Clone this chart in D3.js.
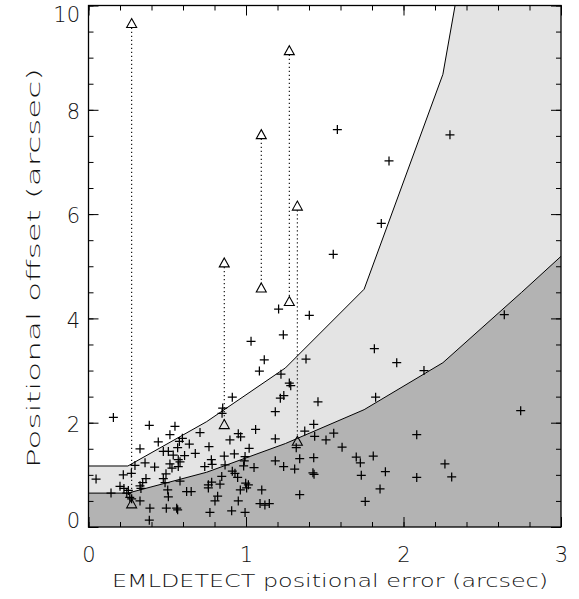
<!DOCTYPE html>
<html>
<head>
<meta charset="utf-8">
<script src="https://cdn.jsdelivr.net/npm/d3@7"></script>
<style>
  body { margin: 0; background: #fff; }
  text { font-family: "DejaVu Sans", sans-serif; font-weight: 200; }
</style>
</head>
<body>
<svg id="chart" width="579" height="599"></svg>
<script>
// ---- axis ticks ----
const xTicks = [0, 1, 2, 3];
const yTicks = [0, 2, 4, 6, 8, 10];
const xMinor = d3.range(0, 3.001, 0.2);
const yMinor = d3.range(0, 10.001, 0.5);

// ---- envelope curves (arcsec) ----
const curveX = [0, 0.25, 0.75, 1.25, 1.75, 2.25, 2.75, 3.0];
const lowerY = [0.65, 0.65, 1.05, 1.60, 2.25, 3.15, 4.50, 5.19];
const upperY = [1.17, 1.17, 2.02, 3.05, 4.56, 8.68, 17.2, 21.5];

// ---- sources: EMLDETECT error vs positional offset ----
const crossX = [
  0.158, 0.386, 0.549, 0.517, 0.443, 0.327, 0.577, 0.640, 0.596, 0.566,
  0.475, 0.507, 0.538, 0.610, 0.678, 0.581, 0.570, 0.517, 0.530, 0.570,
  0.492, 0.359, 0.420, 0.295, 0.048, 0.221, 0.272, 0.365, 0.344, 0.475,
  0.200, 0.225, 0.327, 0.333, 0.486, 0.143, 0.243, 0.253, 0.503, 0.623,
  0.652, 0.262, 0.274, 0.327, 0.507, 0.390, 0.494, 0.560, 0.386, 0.581,
  0.566, 0.708,
  0.913, 0.852, 0.848, 0.898, 0.951, 0.966, 1.061, 0.765, 1.020, 0.780,
  0.785, 0.738, 0.862, 0.926, 0.994, 0.989, 0.867, 0.985, 1.051, 0.846,
  0.913, 0.930, 0.947, 0.761, 0.782, 0.835, 0.998, 1.015, 1.004, 0.761,
  0.964, 0.820, 0.803, 0.951, 0.771, 0.909, 0.994,
  1.089, 1.120, 1.148, 1.100, 1.218, 1.240, 1.457, 1.186, 1.430, 1.373,
  1.436, 1.557, 1.508, 1.186, 1.319, 1.610, 1.341, 1.430, 1.186, 1.239,
  1.309, 1.425, 1.432, 1.700, 1.726, 1.732, 1.808, 1.885, 1.851, 1.341,
  1.757, 1.823, 2.084, 2.084, 2.263, 2.306, 2.744, 2.640, 1.815, 1.957,
  2.130, 1.275, 1.284, 1.237, 1.032, 1.116, 1.381, 1.085, 1.222, 1.207,
  1.402, 1.554, 1.859, 1.580, 1.908, 2.295
];
const crossY = [
  2.10, 1.95, 1.93, 1.77, 1.63, 1.50, 1.64, 1.59, 1.70, 1.52,
  1.45, 1.45, 1.38, 1.37, 1.41, 1.25, 1.29, 1.21, 1.13, 1.16,
  1.02, 1.23, 1.15, 1.18, 0.92, 1.00, 1.03, 0.93, 0.85, 0.93,
  0.78, 0.74, 0.79, 0.74, 0.85, 0.65, 0.65, 0.70, 0.71, 0.68,
  0.68, 0.57, 0.54, 0.50, 0.58, 0.36, 0.36, 0.36, 0.13, 0.88,
  0.33, 1.81,
  2.49, 2.28, 2.18, 1.67, 1.79, 1.73, 1.87, 1.54, 1.51, 1.29,
  1.20, 1.16, 1.36, 1.40, 1.35, 1.27, 1.19, 1.17, 1.14, 0.97,
  1.07, 1.03, 0.95, 0.81, 0.86, 0.82, 0.84, 0.81, 0.75, 0.75,
  0.71, 0.59, 0.50, 0.50, 0.28, 0.31, 0.28,
  0.45, 0.42, 0.45, 0.71, 2.47, 2.52, 2.40, 2.21, 1.97, 1.84,
  1.74, 1.80, 1.67, 1.69, 1.52, 1.53, 1.31, 1.33, 1.27, 1.16,
  1.11, 1.04, 1.01, 1.34, 1.23, 0.99, 1.36, 1.06, 0.73, 0.62,
  0.49, 2.49, 1.77, 0.95, 1.21, 0.96, 2.23, 4.07, 3.42, 3.15,
  3.00, 2.76, 2.71, 3.685, 3.56, 3.205, 3.22, 2.99, 2.93, 4.18,
  4.06, 5.23, 5.82, 7.62, 7.02, 7.52
];

// ---- sources with two position estimates (linked by dotted lines) ----
const pairX      = [0.274, 0.862, 1.097, 1.275, 1.326];
const pairTop    = [9.65, 5.06, 7.52, 9.13, 6.15];
const pairBottom = [0.44, 1.96, 4.58, 4.32, 1.64];

// ---- layout ----
const svg = d3.select("#chart");
const L = 88.5, R = 561, T = 5.5, B = 527;
const x = d3.scaleLinear().domain([0, 3]).range([L, R]);
const y = d3.scaleLinear().domain([0, 10]).range([B, T]);

svg.append("defs").append("clipPath").attr("id", "plotclip")
  .append("rect").attr("x", L).attr("y", T).attr("width", R - L).attr("height", B - T);

const plot = svg.append("g").attr("clip-path", "url(#plotclip)");

const env = curveX.map((d, i) => ({ x: d, lo: lowerY[i], hi: upperY[i] }));

// light band between the two curves
plot.append("path").datum(env)
  .attr("d", d3.area().x(d => x(d.x)).y0(d => y(d.lo)).y1(d => y(d.hi)))
  .attr("fill", "#e4e4e4");
// darker region under the lower curve
plot.append("path").datum(env)
  .attr("d", d3.area().x(d => x(d.x)).y0(y(0)).y1(d => y(d.lo)))
  .attr("fill", "#b3b3b3");

const lineLo = d3.line().x(d => x(d.x)).y(d => y(d.lo));
const lineHi = d3.line().x(d => x(d.x)).y(d => y(d.hi));
plot.append("path").datum(env).attr("d", lineLo)
  .attr("fill", "none").attr("stroke", "#000").attr("stroke-width", 1);
plot.append("path").datum(env).attr("d", lineHi)
  .attr("fill", "none").attr("stroke", "#000").attr("stroke-width", 1);

// dotted connectors
plot.selectAll("line.pair").data(pairX).join("line")
  .attr("class", "pair")
  .attr("x1", d => x(d)).attr("x2", d => x(d))
  .attr("y1", (d, i) => y(pairTop[i]) + 4)
  .attr("y2", (d, i) => y(pairBottom[i]) - 4)
  .attr("stroke", "#000").attr("stroke-width", 1.1)
  .attr("stroke-dasharray", "1.2,2.8");

// triangles
const tri = "M0,-5.2L5,3.8L-5,3.8Z";
const triPts = pairX.flatMap((d, i) => [[d, pairTop[i]], [d, pairBottom[i]]]);
plot.selectAll("path.tri").data(triPts).join("path")
  .attr("class", "tri")
  .attr("d", tri)
  .attr("transform", d => `translate(${x(d[0])},${y(d[1])})`)
  .attr("fill", "none").attr("stroke", "#000").attr("stroke-width", 1.1);

// crosses
const cross = "M-4.5,0H4.5M0,-4.5V4.5";
plot.selectAll("path.cross").data(crossX).join("path")
  .attr("class", "cross")
  .attr("d", cross)
  .attr("transform", (d, i) => `translate(${x(d)},${y(crossY[i])})`)
  .attr("fill", "none").attr("stroke", "#000").attr("stroke-width", 1.25);

// ---- axes (ticks point inward) ----
function styleAxis(g) {
  g.select(".domain").remove();
  g.selectAll("line").attr("stroke", "#000").attr("stroke-width", 1);
  g.attr("font-family", null).attr("font-size", null);
}

// bottom
svg.append("g").attr("transform", `translate(0,${B})`)
  .call(d3.axisBottom(x).tickValues(xMinor).tickSize(-5).tickFormat(""))
  .call(styleAxis);
const xb = svg.append("g").attr("transform", `translate(0,${B})`)
  .call(d3.axisBottom(x).tickValues(xTicks).tickSize(-10).tickPadding(20).tickFormat(d3.format("d")))
  .call(styleAxis);
xb.selectAll("text").attr("font-size", 21).attr("fill", "#111");

// top
svg.append("g").attr("transform", `translate(0,${T})`)
  .call(d3.axisTop(x).tickValues(xMinor).tickSize(-5).tickFormat(""))
  .call(styleAxis);
svg.append("g").attr("transform", `translate(0,${T})`)
  .call(d3.axisTop(x).tickValues(xTicks).tickSize(-10).tickFormat(""))
  .call(styleAxis);

// left
svg.append("g").attr("transform", `translate(${L},0)`)
  .call(d3.axisLeft(y).tickValues(yMinor).tickSize(-5).tickFormat(""))
  .call(styleAxis);
const yl = svg.append("g").attr("transform", `translate(${L},0)`)
  .call(d3.axisLeft(y).tickValues(yTicks).tickSize(-10).tickPadding(8.5).tickFormat(d3.format("d")))
  .call(styleAxis);
yl.selectAll("text").attr("font-size", 21).attr("fill", "#111")
  .attr("y", d => d === 0 ? -6 : d === 10 ? 9 : 2);

// right
svg.append("g").attr("transform", `translate(${R},0)`)
  .call(d3.axisRight(y).tickValues(yMinor).tickSize(-5).tickFormat(""))
  .call(styleAxis);
svg.append("g").attr("transform", `translate(${R},0)`)
  .call(d3.axisRight(y).tickValues(yTicks).tickSize(-10).tickFormat(""))
  .call(styleAxis);

// frame
svg.append("rect").attr("x", L).attr("y", T).attr("width", R - L).attr("height", B - T)
  .attr("fill", "none").attr("stroke", "#000").attr("stroke-width", 1.3);

// titles
svg.append("text")
  .attr("x", 330).attr("y", 587)
  .attr("text-anchor", "middle").attr("font-size", 18).attr("fill", "#111")
  .attr("textLength", 436).attr("lengthAdjust", "spacingAndGlyphs")
  .text("EMLDETECT positional error (arcsec)");

svg.append("text")
  .attr("transform", "translate(40,268) rotate(-90)")
  .attr("text-anchor", "middle").attr("font-size", 18).attr("fill", "#111")
  .attr("textLength", 400).attr("lengthAdjust", "spacingAndGlyphs")
  .text("Positional offset (arcsec)");
</script>
</body>
</html>
